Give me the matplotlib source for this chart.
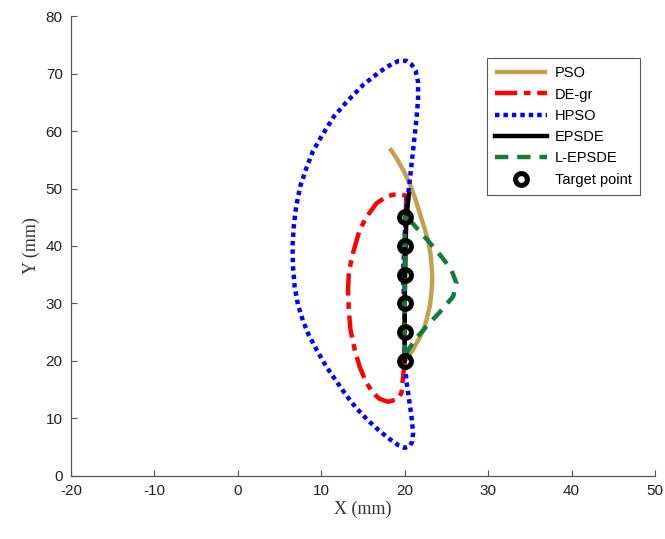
import matplotlib
matplotlib.use("Agg")
import matplotlib.pyplot as plt

plt.rcParams["axes.unicode_minus"] = False

# ---- data (mm) ----
pso_x = [18.2, 18.6, 19.2, 20.0, 20.6, 21.2, 21.8, 22.3, 22.8, 23.1, 23.25, 23.3, 23.2, 23.0, 22.6, 22.2, 21.6, 21.0, 20.4, 20.0]
pso_y = [57.0, 56.2, 54.8, 52.7, 50.8, 48.5, 45.7, 43.4, 41.0, 38.5, 36.0, 34.0, 31.8, 29.5, 27.1, 25.2, 23.6, 22.0, 20.7, 20.0]

degr_x = [20.0, 19.8, 19.6, 19.0, 18.0, 17.0, 16.2, 15.3, 14.6, 14.0, 13.5, 13.3, 13.2, 13.3, 13.8, 14.6, 15.4,
          16.6, 17.6, 18.5, 19.3, 20.0, 20.2, 20.1, 20.0, 20.0, 20.0]
degr_y = [20.0, 17.3, 14.4, 13.3, 12.9, 13.4, 14.4, 16.5, 19.0, 22.0, 25.4, 28.8, 32.3, 35.5, 38.8, 42.8, 45.0,
          47.4, 48.4, 48.9, 49.0, 48.8, 48.6, 45.0, 40.0, 30.0, 20.0]

hpso_x = [20.0, 20.0, 19.8, 20.0, 20.2, 20.5, 20.8, 21.1, 21.4, 21.6, 21.6, 21.3, 20.8, 20.2, 19.3, 18.5, 17.0, 15.0, 13.0,
          11.5, 10.2, 9.0, 8.2, 7.5, 7.0, 6.7, 6.55, 6.6, 6.8, 7.2, 7.8, 8.5, 9.5, 10.6, 11.8, 13.0, 14.2, 15.5, 17.0,
          18.3, 19.3, 20.0, 20.6, 20.9, 21.0, 20.8, 20.5, 20.2, 20.0]
hpso_y = [20.0, 27.0, 35.0, 42.0, 47.0, 50.0, 54.0, 58.0, 62.0, 65.5, 68.5, 70.5, 71.6, 72.2, 72.2, 71.7, 70.3, 68.0, 65.0,
          62.5, 59.5, 56.5, 53.5, 50.5, 47.0, 43.5, 40.0, 36.5, 33.0, 29.8, 27.0, 24.5, 21.8, 19.0, 16.5, 14.0, 11.8, 9.8, 7.8,
          6.3, 5.3, 4.9, 5.2, 6.0, 7.5, 10.5, 13.5, 16.5, 20.0]

epsde_x = [20.0, 20.0, 20.1, 20.2, 20.5]
epsde_y = [20.0, 30.0, 40.0, 45.0, 49.0]

lepsde_x = [20.6, 20.0, 20.0, 20.4, 21.4, 22.6, 24.2, 25.8, 26.2, 25.6, 24.6, 23.4, 22.0, 20.6]
lepsde_y = [44.5, 45.0, 20.0, 21.9, 24.0, 26.0, 28.5, 31.2, 33.5, 35.8, 37.8, 39.9, 42.2, 44.5]

target_x = [20, 20, 20, 20, 20, 20]
target_y = [20, 25, 30, 35, 40, 45]

x_ticks = [-20, -10, 0, 10, 20, 30, 40, 50]
y_ticks = [0, 10, 20, 30, 40, 50, 60, 70, 80]

fig = plt.figure(figsize=(6.65, 5.39), dpi=100)
ax = fig.add_axes([0.1068, 0.1169, 0.8782, 0.8534])

ax.plot(pso_x, pso_y, color="#C4A04E", lw=3.2, label="PSO", solid_capstyle="butt")
ax.plot(degr_x, degr_y, color="#FF0000", lw=3.2, ls=(0, (5, 1.5, 1.5, 1.5)), label="DE-gr")
ax.plot(hpso_x, hpso_y, color="#0000FF", lw=3.2, ls=(0, (1, 0.9)), label="HPSO")
ax.plot(epsde_x, epsde_y, color="black", lw=3.2, label="EPSDE")
ax.plot(lepsde_x, lepsde_y, color="#157A3C", lw=3.2, ls=(0, (3, 2)), label="L-EPSDE")
ax.plot(target_x, target_y, ls="none", marker="o", ms=8.5, mfc="none", mec="black", mew=3.6,
        label="Target point")

ax.set_xlim(-20, 50)
ax.set_ylim(0, 80)
ax.set_xticks(x_ticks)
ax.set_yticks(y_ticks)
for s in ["top", "right"]:
    ax.spines[s].set_visible(False)
for s in ["left", "bottom"]:
    ax.spines[s].set_color("#555555")
    ax.spines[s].set_linewidth(0.9)
ax.tick_params(direction="in", length=4, color="#555555", labelsize=11,
               labelcolor="#222222", pad=6)
for lbl in ax.get_xticklabels() + ax.get_yticklabels():
    lbl.set_fontfamily("Liberation Sans")

ax.set_xlabel("X (mm)", family="Liberation Serif", fontsize=13, color="#333333", labelpad=2)
ax.set_ylabel("Y (mm)", family="Liberation Serif", fontsize=13, color="#333333", labelpad=4)

leg = ax.legend(loc="upper right", bbox_to_anchor=(0.986, 0.924), prop={"family": "Liberation Sans", "size": 10.5},
                frameon=True, fancybox=False, edgecolor="#555555", framealpha=1,
                handlelength=3.6, borderpad=0.55, labelspacing=0.5, handletextpad=0.5)
leg.get_frame().set_linewidth(0.8)

fig.savefig("out.png", dpi=100)
